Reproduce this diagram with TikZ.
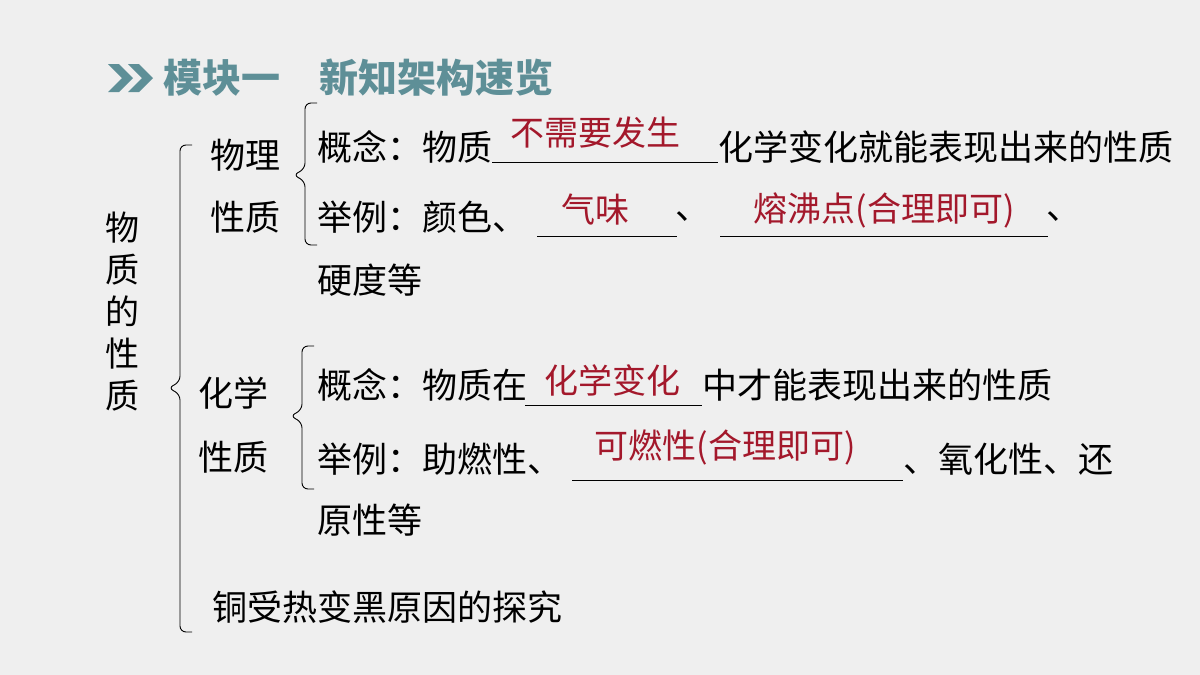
\documentclass[tikz,border=0pt]{standalone}
\usepackage{fontspec}
\setmainfont{Noto Sans CJK SC}
\definecolor{bgcol}{HTML}{EFEFEF}
\definecolor{headcol}{HTML}{5E8F97}
\definecolor{anscol}{HTML}{A3182B}
\tikzset{
  txt/.style={anchor=west,inner sep=0pt,font=\fontsize{35}{37}\selectfont},
  ans/.style={inner sep=0pt,text=anscol,font=\fontsize{34}{36}\selectfont},
  blank/.style={line width=0.9pt},
  brace/.style={line width=0.9pt,rounded corners=6pt}
}
\newcommand{\bracedraw}[4]{% x, top, bottom, tip y
  \draw[brace] (#1+12,#2) -- (#1,#2) -- (#1,#4-6) -- (#1-12,#4) -- (#1,#4+6) -- (#1,#3) -- (#1+12,#3);}
\begin{document}
\begin{tikzpicture}[x=1pt,y=-1pt]
\fill[bgcol] (0,0) rectangle (1200,675);
\useasboundingbox (0,0) rectangle (1200,675);
% header
\foreach \s in {0,20}
  \fill[headcol] (108+\s,64) -- (119+\s,64) -- (133+\s,78) -- (119+\s,92) -- (108+\s,92) -- (122+\s,78) -- cycle;
\node[txt,text=headcol,font=\fontsize{39}{41}\selectfont\bfseries] (head) at (163,78) {模块一\hspace{1em}新知架构速览};
% left title
\node[inner sep=0pt,align=center,font=\fontsize{34}{42}\selectfont] (title) at (122,312) {物\\质\\的\\性\\质};
\bracedraw{180}{145}{632}{388}
% physical
\node[txt] (wl1) at (210,155) {物理};
\node[txt] (wl2) at (210,217) {性质};
\bracedraw{305}{103}{245}{175}
\node[txt] (c1a) at (317,147) {概念：物质};
\coordinate (u1a) at (492,162); \coordinate (u1b) at (718,162);
\draw[blank] (u1a) -- (u1b);
\node[ans] (a1) at (595,133) {不需要发生};
\node[txt] (c1b) at (718,147) {化学变化就能表现出来的性质};
\node[txt] (e1a) at (317,217) {举例：颜色、};
\coordinate (u2a) at (537,236); \coordinate (u2b) at (677,236);
\draw[blank] (u2a) -- (u2b);
\node[ans] (a2) at (595,210) {气味};
\node[txt] (e1b) at (675,217) {、};
\coordinate (u3a) at (720,236); \coordinate (u3b) at (1048,236);
\draw[blank] (u3a) -- (u3b);
\node[ans] (a3) at (884,210) {熔沸点(合理即可)};
\node[txt] (e1c) at (1046,217) {、};
\node[txt] (e1d) at (317,280) {硬度等};
% chemical
\node[txt] (hx1) at (198,393) {化学};
\node[txt] (hx2) at (198,457) {性质};
\bracedraw{302}{346}{489}{416}
\node[txt] (c2a) at (317,385) {概念：物质在};
\coordinate (u4a) at (525,405); \coordinate (u4b) at (702,405);
\draw[blank] (u4a) -- (u4b);
\node[ans] (a4) at (612,380) {化学变化};
\node[txt] (c2b) at (702,385) {中才能表现出来的性质};
\node[txt] (e2a) at (317,459) {举例：助燃性、};
\coordinate (u5a) at (572,480); \coordinate (u5b) at (903,480);
\draw[blank] (u5a) -- (u5b);
\node[ans] (a5) at (725,447) {可燃性(合理即可)};
\node[txt] (e2b) at (903,459) {、氧化性、还};
\node[txt] (e2c) at (317,520) {原性等};
\node[txt] (tj) at (212,607) {铜受热变黑原因的探究};
\end{tikzpicture}
\end{document}
